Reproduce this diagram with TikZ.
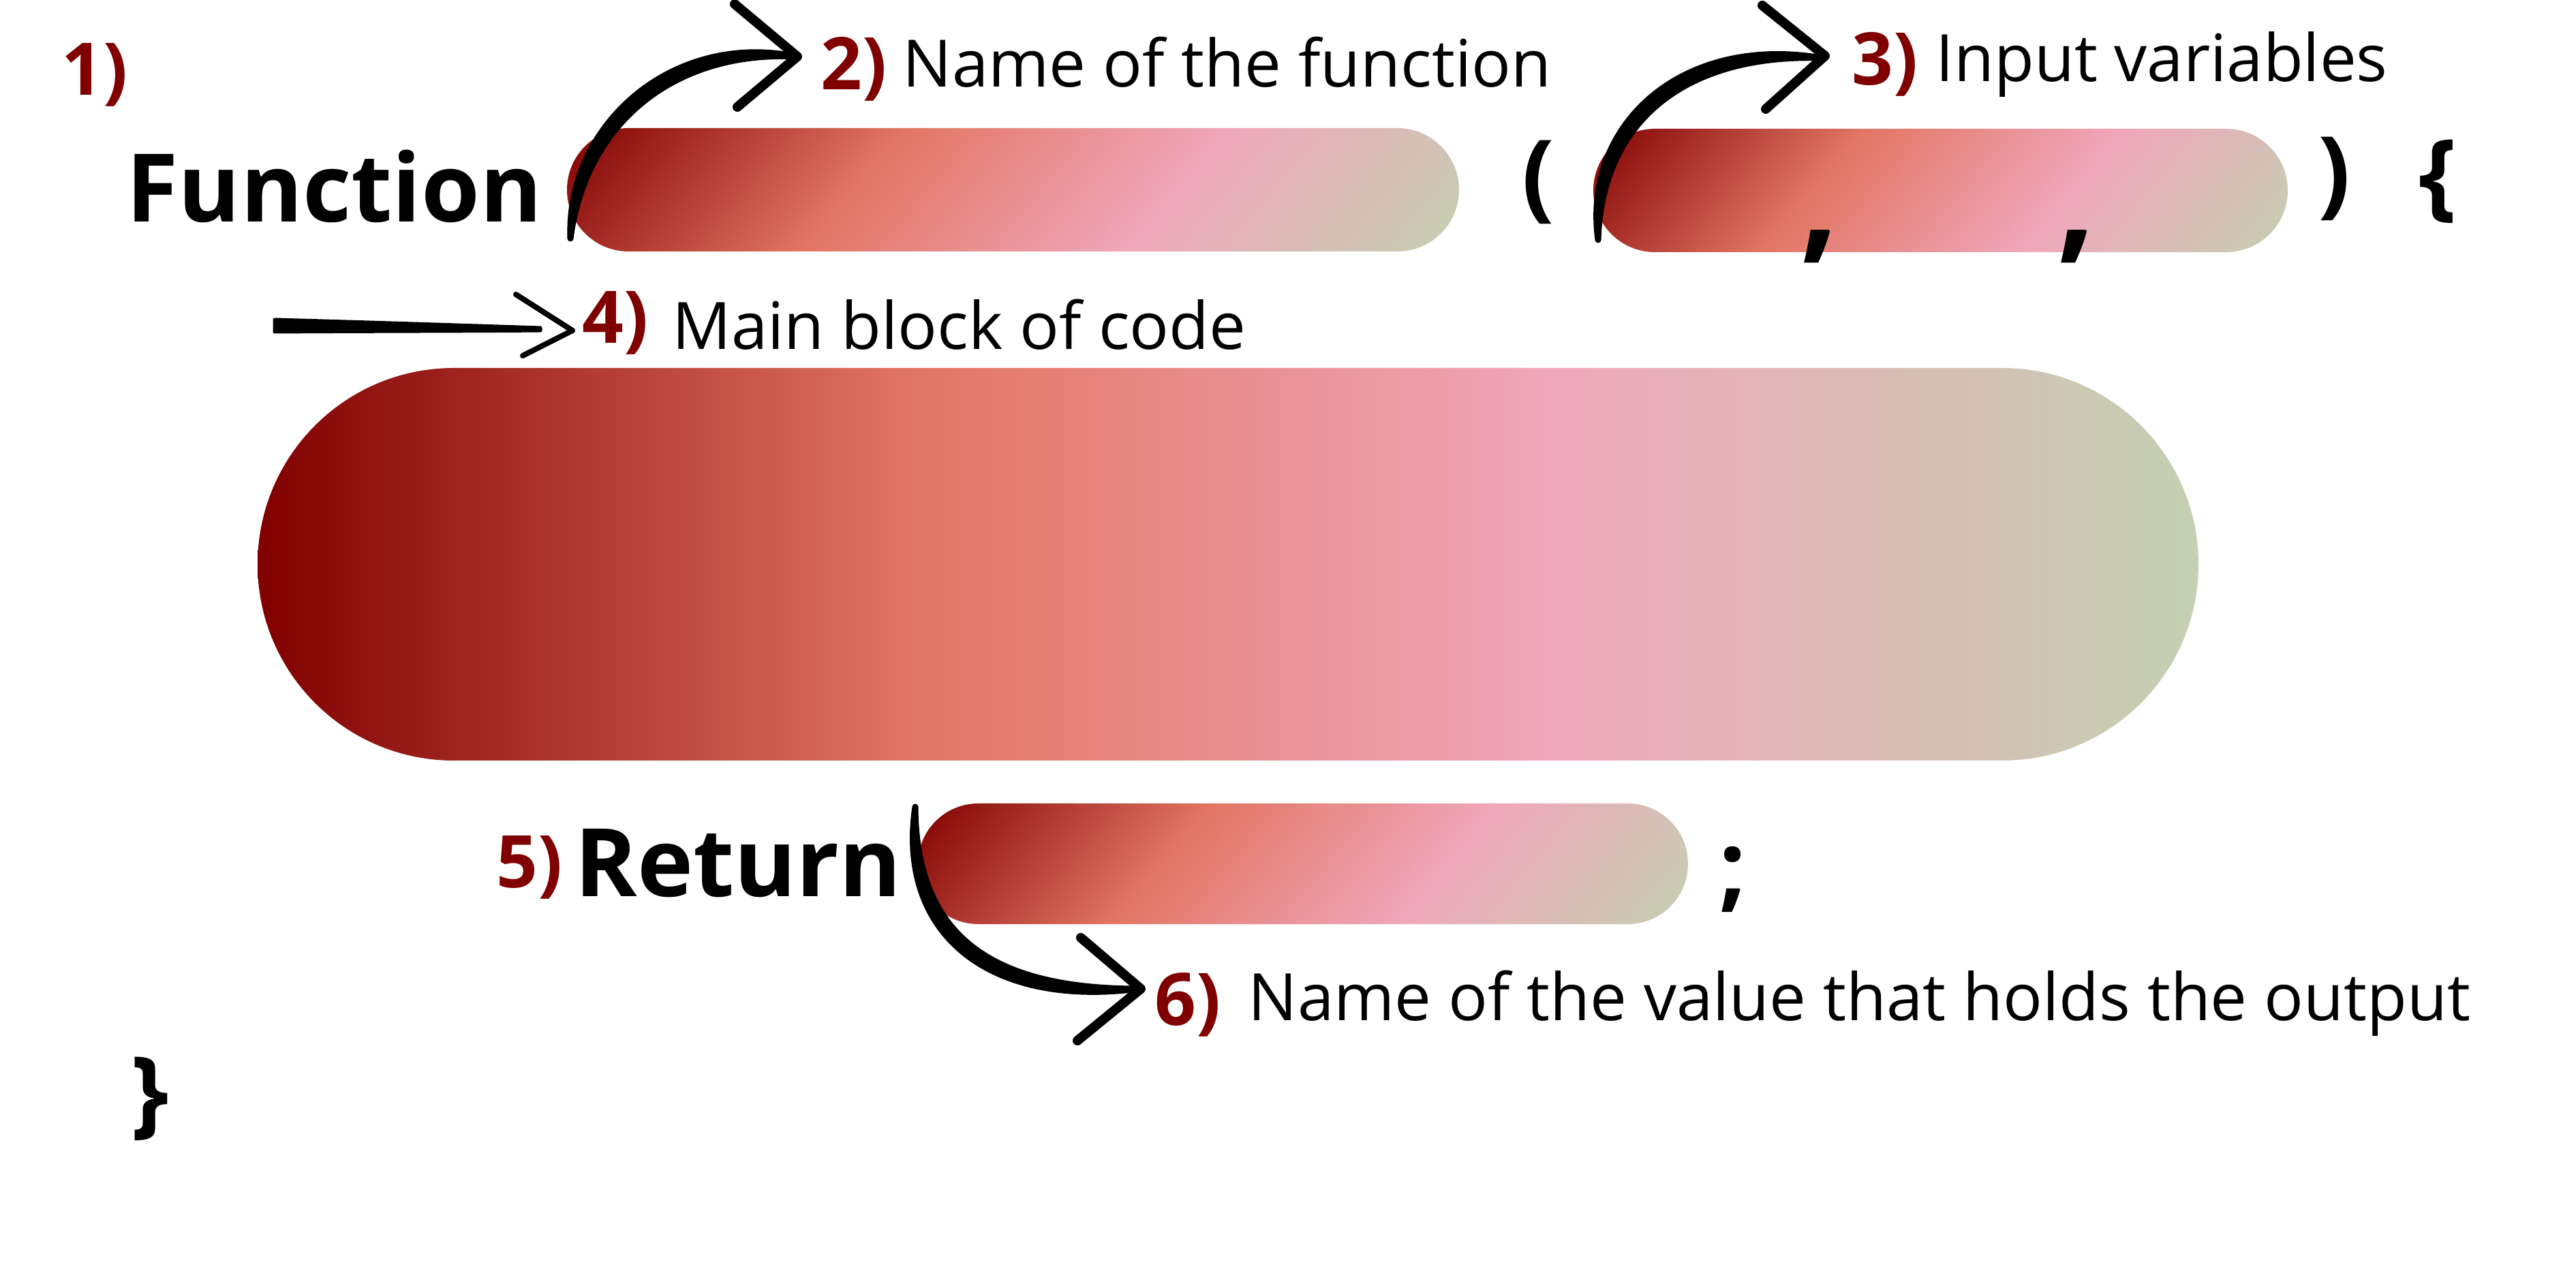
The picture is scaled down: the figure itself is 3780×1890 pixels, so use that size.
\documentclass[tikz,border=0pt]{standalone}
\usepackage{fontspec}
\setmainfont{Open Sans}
\definecolor{numred}{HTML}{800000}
\definecolor{gA}{HTML}{800000}
\definecolor{gB}{HTML}{E27664}
\definecolor{gC}{HTML}{EFA7BB}
\definecolor{gD}{HTML}{C4D0B2}
\pgfdeclarehorizontalshading{barshade}{100bp}{color(0bp)=(gA); color(25bp)=(gA); color(42bp)=(gB); color(58.25bp)=(gC); color(75bp)=(gD); color(100bp)=(gD)}
\tikzset{
  bigtxt/.style={font=\bfseries\fontsize{39.5pt}{40pt}\selectfont, inner sep=0pt, anchor=base west},
  numtxt/.style={font=\bfseries\fontsize{30.3pt}{31pt}\selectfont, text=numred, inner sep=0pt, anchor=base west},
  desc/.style={font=\fontsize{27.3pt}{28pt}\selectfont, inner sep=0pt, anchor=base west},
  punct/.style={font=\bfseries\fontsize{40pt}{41pt}\selectfont, inner sep=0pt},
  comma/.style={font=\bfseries\fontsize{56pt}{56pt}\selectfont, inner sep=0pt},
  barname/.style={inner sep=0pt, draw=none},
  taper/.style={fill=black, draw=black, line width=0.9mm, line join=round},
  headpen/.style={draw=black, line width=1.4mm, line cap=round, line join=round},
  thinhead/.style={draw=black, line width=0.8mm, line cap=round, line join=round},
}
\begin{document}
\begin{tikzpicture}[x=0.1mm,y=-0.1mm]
\useasboundingbox[fill=white] (0,0) rectangle (3780,1890);

% ---------- gradient bars ----------
\begin{scope}
  \clip[rounded corners=9.05mm] (832,188) rectangle (2141,369);
  \shade[shading=barshade, transform canvas={rotate around={-40:(1486.5,278.5)}}] (927,-211.65) rectangle (2046,768.65);
\end{scope}
\node[barname, minimum width=130.9mm, minimum height=18.1mm] (bar1) at (1486.5,278.5) {};

\begin{scope}
  \clip[rounded corners=9.05mm] (2338,189) rectangle (3357,370);
  \shade[shading=barshade, transform canvas={rotate around={-40:(2847.5,279.5)}}] (2399,-117.4) rectangle (3296,676.4);
\end{scope}
\node[barname, minimum width=101.9mm, minimum height=18.1mm] (bar2) at (2847.5,279.5) {};

\begin{scope}
  \clip[rounded corners=8.85mm] (1347,1179) rectangle (2477,1356);
  \shade[shading=barshade, transform canvas={rotate around={-40:(1912,1267.5)}}] (1422.3,836.4) rectangle (2401.7,1698.6);
\end{scope}
\node[barname, minimum width=113mm, minimum height=17.7mm] (bar3) at (1912,1267.5) {};

\shade[shading=barshade, rounded corners=28.8mm] (378,540) rectangle (3226,1116);
\node[barname, minimum width=284.8mm, minimum height=57.6mm] (mainbar) at (1802,828) {};

% ---------- texts ----------
\node[numtxt] (n1) at (90,140) {1)};
\node[bigtxt] (func) at (185,326) {Function};
\node[numtxt] (n2) at (1204,132) {2)};
\node[desc] (d2) at (1324,128) {Name of the function};
\node[numtxt] (n3) at (2717,125) {3)};
\node[desc] (d3) at (2840,120) {Input variables};
\node[numtxt] (n4) at (854,504) {4)};
\node[desc] (d4) at (986,513) {Main block of code};
\node[numtxt] (n5) at (728,1303) {5)};
\node[bigtxt] (ret) at (843,1316) {Return};
\node[numtxt] (n6) at (1694,1504) {6)};
\node[desc] (d6) at (1831,1497) {Name of the value that holds the output};

\node[punct] (lp) at (2257,267) {(};
\node[punct] (rp) at (3425,262) {)};
\node[punct] (lb) at (3577,266) {\{};
\node[punct] (rb) at (220,1612) {\}};
\node[punct] (semi) at (2543,1290) {;};
\node[comma] (c1) at (2670,362) {,};
\node[comma] (c2) at (3047,362) {,};

% ---------- hand-drawn arrows ----------
\coordinate (t2) at (1170,83);
\coordinate (t3) at (2678,82);
\coordinate (t4) at (840,485);
\coordinate (t6) at (1674,1451);

% arrow 2
\filldraw[taper] (837,350) .. controls (831,180) and (990,46) .. (1168,83)
   .. controls (990,74) and (859,180) .. (837,350) -- cycle;
\draw[headpen] (1078,6) -- (t2) -- (1082,157);

% arrow 3
\filldraw[taper] (2345,352) .. controls (2322,180) and (2470,51) .. (2672,85)
   .. controls (2470,79) and (2350,180) .. (2345,352) -- cycle;
\draw[headpen] (2586,8) -- (t3) -- (2591,160);

% arrow 4
\filldraw[taper, line width=0.5mm] (403,469) .. controls (550,473) and (700,478) .. (793,481)
   -- (793,485) .. controls (700,486) and (550,486) .. (403,487) -- cycle;
\draw[thinhead] (757,432) -- (t4) -- (767,522);

% arrow 6
\filldraw[taper] (1343,1184) .. controls (1316,1370) and (1450,1479) .. (1670,1451)
   .. controls (1450,1451) and (1344,1370) .. (1343,1184) -- cycle;
\draw[headpen] (1586,1376) -- (t6) -- (1581,1527);
\end{tikzpicture}
\end{document}
